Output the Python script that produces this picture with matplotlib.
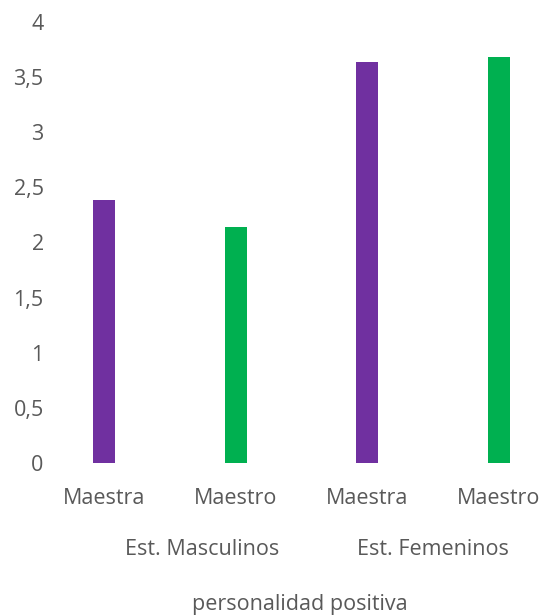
import matplotlib.pyplot as plt
from matplotlib.ticker import FuncFormatter

# data
categories = ['Maestra', 'Maestro', 'Maestra', 'Maestro']
groups = ['Est. Masculinos', 'Est. Femeninos']
values = [2.39, 2.14, 3.64, 3.68]
bar_colors = ['#7030A0', '#00B050', '#7030A0', '#00B050']
axis_title = 'personalidad positiva'

TEXT = '#595959'
FS = 15.5
plt.rcParams['font.family'] = ['Open Sans', 'DejaVu Sans']

fig = plt.figure(figsize=(5.45, 6.15), dpi=100)
ax = fig.add_axes([52 / 545, 152 / 615, 493 / 545, 441 / 615])

x = list(range(len(categories)))
ax.bar(x, values, width=0.165, color=bar_colors)

ax.set_xlim(-0.395, 3.35)
ax.set_ylim(0, 4)
ax.set_yticks([0, 0.5, 1, 1.5, 2, 2.5, 3, 3.5, 4])
ax.yaxis.set_major_formatter(FuncFormatter(lambda v, p: f'{v:g}'.replace('.', ',')))
ax.set_xticks(x)
ax.set_xticklabels(categories)

ax.tick_params(axis='both', length=0, colors=TEXT, labelsize=FS)
ax.tick_params(axis='x', pad=18)
ax.tick_params(axis='y', pad=6)
for s in ax.spines.values():
    s.set_visible(False)

# second level of category labels and axis title
trans = ax.get_xaxis_transform()
for gx, g in zip([0.745, 2.495], groups):
    ax.text(gx, -0.197, g, transform=trans, ha='center', va='center',
            color=TEXT, fontsize=FS)
ax.text(1.49, -0.32, axis_title, transform=trans, ha='center', va='center',
        color=TEXT, fontsize=FS)

fig.savefig('out.png', dpi=100)
